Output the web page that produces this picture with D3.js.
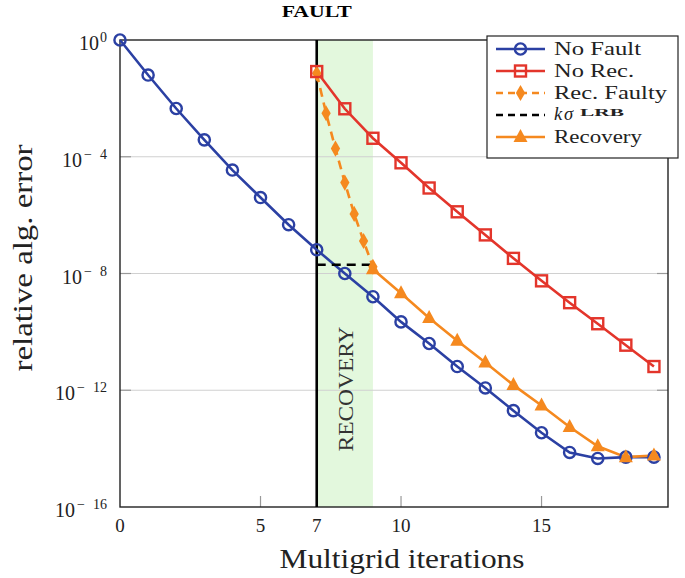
<!DOCTYPE html>
<html>
<head>
<meta charset="utf-8">
<script src="https://cdn.jsdelivr.net/npm/d3@7"></script>
<style>
  body { margin: 0; background: #fff; }
  text { font-family: "Liberation Serif", "DejaVu Serif", serif; }
</style>
</head>
<body>
<svg id="main-svg" width="685" height="578"></svg>
<script>
// iterations and errors
const iterations = [0, 1, 2, 3, 4, 5, 6, 7, 8, 9, 10, 11, 12, 13, 14, 15, 16, 17, 18, 19];
const noFault = [1, 6.3e-2, 4.5e-3, 3.8e-4, 3.5e-5, 4.0e-6, 4.7e-7, 6.5e-8, 1.0e-8, 1.6e-9,
  2.2e-10, 4.0e-11, 6.5e-12, 1.2e-12, 2.0e-13, 3.5e-14, 7.4e-15, 4.6e-15, 5.1e-15, 5.1e-15];

const noRecIters = [7, 8, 9, 10, 11, 12, 13, 14, 15, 16, 17, 18, 19];
const noRec = [8.3e-2, 4.4e-3, 4.3e-4, 6.2e-5, 8.5e-6, 1.3e-6, 2.1e-7, 3.3e-8, 5.6e-9, 1.0e-9,
  1.9e-10, 3.5e-11, 6.5e-12];

const recFaultyIters = [7, 7.333, 7.667, 8, 8.333, 8.667, 9];
const recFaulty = [7.2e-2, 3.1e-3, 1.9e-4, 1.3e-5, 1.1e-6, 1.3e-7, 1.7e-8];

const lrbIters = [7, 9];
const lrbBound = [2.0e-8, 2.0e-8];

const recoveryIters = [9, 10, 11, 12, 13, 14, 15, 16, 17, 18, 19];
const recovery = [1.4e-8, 2.1e-9, 3.0e-10, 5.0e-11, 8.9e-12, 1.5e-12, 3.0e-13, 5.5e-14,
  1.2e-14, 5.1e-15, 5.8e-15];

const faultIter = 7;
const recoveryWindow = [7, 9];
const xTicks = [0, 5, 7, 10, 15];
const yTickExps = [0, -4, -8, -12, -16];
const legendLabels = ["No Fault", "No Rec.", "Rec. Faulty", "lrb", "Recovery"];

const blue = "#2b40a3", red = "#e3352b", orange = "#f5891f";

const margin = {top: 40, right: 17, bottom: 71, left: 120};
const width = 685, height = 578;

const svg = d3.select('#main-svg');

const x = d3.scaleLinear().domain([0, 19.5]).range([margin.left, width - margin.right]);
const y = d3.scaleLog().domain([1e-16, 1]).range([height - margin.bottom, margin.top]);

// recovery band
svg.append("rect")
  .attr("x", x(recoveryWindow[0]))
  .attr("y", margin.top)
  .attr("width", x(recoveryWindow[1]) - x(recoveryWindow[0]))
  .attr("height", y(1e-16) - margin.top)
  .attr("fill", "#e3f8dd");

// grid lines
svg.append("g")
  .selectAll("line")
  .data(yTickExps.slice(1, -1))
  .join("line")
  .attr("x1", margin.left).attr("x2", width - margin.right)
  .attr("y1", d => y(10 ** d)).attr("y2", d => y(10 ** d))
  .attr("stroke", "#d0d0d0").attr("stroke-width", 1.2);

// y ticks on both sides, x ticks along the bottom
const tickG = svg.append("g").attr("stroke", "#999").attr("stroke-width", 1.2);
yTickExps.slice(1, -1).forEach(e => {
  tickG.append("line").attr("x1", margin.left).attr("x2", margin.left + 11)
    .attr("y1", y(10 ** e)).attr("y2", y(10 ** e));
  tickG.append("line").attr("x1", width - margin.right - 11).attr("x2", width - margin.right)
    .attr("y1", y(10 ** e)).attr("y2", y(10 ** e));
});
[5, 10, 15].forEach(t => {
  tickG.append("line").attr("x1", x(t)).attr("x2", x(t))
    .attr("y1", y(1e-16)).attr("y2", y(1e-16) - 11);
});

// frame
svg.append("rect")
  .attr("x", margin.left).attr("y", margin.top)
  .attr("width", width - margin.right - margin.left)
  .attr("height", y(1e-16) - margin.top)
  .attr("fill", "none").attr("stroke", "#222").attr("stroke-width", 1.4);

// fault line
svg.append("line")
  .attr("x1", x(faultIter)).attr("x2", x(faultIter))
  .attr("y1", margin.top).attr("y2", y(1e-16))
  .attr("stroke", "#000").attr("stroke-width", 2.6);

// y tick labels
const yl = svg.append("g").attr("fill", "#222");
yTickExps.forEach(e => {
  const t = yl.append("text")
    .attr("x", 107).attr("y", y(10 ** e) + 10)
    .attr("text-anchor", "end")
    .attr("font-size", 20);
  t.append("tspan").text("10");
  if (e === 0) {
    t.append("tspan").attr("dy", -8).attr("dx", 1).attr("font-size", 14).text("0");
  } else {
    t.append("tspan").attr("dy", -8).attr("dx", 2).attr("font-size", 14).text("\u2212");
    t.append("tspan").attr("dx", 8).attr("font-size", 14).text(Math.abs(e));
  }
});

// x tick labels
svg.append("g").selectAll("text")
  .data(xTicks)
  .join("text")
  .attr("x", d => x(d)).attr("y", 532)
  .attr("text-anchor", "middle")
  .attr("font-size", 19).attr("fill", "#222")
  .text(d => d);

// axis titles
svg.append("text")
  .attr("x", 402).attr("y", 568)
  .attr("text-anchor", "middle")
  .attr("font-size", 27).attr("fill", "#222")
  .attr("textLength", 245).attr("lengthAdjust", "spacingAndGlyphs")
  .text("Multigrid iterations");

svg.append("text")
  .attr("transform", "translate(32,258) rotate(-90)")
  .attr("text-anchor", "middle")
  .attr("font-size", 28).attr("fill", "#222")
  .attr("textLength", 227).attr("lengthAdjust", "spacingAndGlyphs")
  .text("relative alg. error");

svg.append("text")
  .attr("x", x(faultIter)).attr("y", 17)
  .attr("text-anchor", "middle")
  .attr("font-size", 16).attr("font-weight", "bold")
  .attr("textLength", 70).attr("lengthAdjust", "spacingAndGlyphs")
  .text("FAULT");

svg.append("text")
  .attr("transform", `translate(${x(8) + 8},389) rotate(-90)`)
  .attr("text-anchor", "middle")
  .attr("font-size", 22).attr("fill", "#333")
  .attr("textLength", 125).attr("lengthAdjust", "spacingAndGlyphs")
  .text("RECOVERY");

const line = d3.line().x(d => x(d[0])).y(d => y(d[1]));

// series
const drawLine = (xs, ys, color, dash) => svg.append("path")
  .datum(d3.zip(xs, ys))
  .attr("d", line)
  .attr("fill", "none")
  .attr("stroke", color).attr("stroke-width", 2.6)
  .attr("stroke-dasharray", dash || null);

drawLine(iterations, noFault, blue);
drawLine(noRecIters, noRec, red);
drawLine(lrbIters, lrbBound, "#000", "9,6");
drawLine(recFaultyIters, recFaulty, orange, "9,6");
drawLine(recoveryIters, recovery, orange);

const circleMark = (g, color) => g.append("circle").attr("r", 5.6)
  .attr("fill", "none").attr("stroke", color).attr("stroke-width", 2.4);
const squareMark = (g, color) => g.append("rect").attr("x", -5.5).attr("y", -5.5)
  .attr("width", 11).attr("height", 11)
  .attr("fill", "none").attr("stroke", color).attr("stroke-width", 2.4);
const diamondMark = (g, color) => g.append("path")
  .attr("d", d3.symbol(d3.symbolDiamond, 75)())
  .attr("fill", color);
const triMark = (g, color) => g.append("path")
  .attr("d", "M0,-8L7,5L-7,5Z")
  .attr("fill", color);

const drawMarks = (xs, ys, color, mk) => {
  d3.zip(xs, ys).forEach(p => {
    const g = svg.append("g").attr("transform", `translate(${x(p[0])},${y(p[1])})`);
    mk(g, color);
  });
};

drawMarks(iterations, noFault, blue, circleMark);
drawMarks(recFaultyIters, recFaulty, orange, diamondMark);
drawMarks(noRecIters, noRec, red, squareMark);
drawMarks(recoveryIters, recovery, orange, triMark);

// legend
const legend = svg.append("g");
legend.append("rect")
  .attr("x", 487).attr("y", 36).attr("width", 191).attr("height", 122)
  .attr("fill", "#fff").attr("stroke", "#222").attr("stroke-width", 1.2);

const legendStyle = [
  {color: blue, dash: null, mk: circleMark, len: 87},
  {color: red, dash: null, mk: squareMark, len: 80},
  {color: orange, dash: "7,5", mk: diamondMark, len: 113},
  {color: "#000", dash: "7,5", mk: null, len: null},
  {color: orange, dash: null, mk: triMark, len: 88}
];
const rowY = [49, 71, 93, 115, 137];

legendLabels.forEach((label, i) => {
  const st = legendStyle[i];
  const g = legend.append("g").attr("transform", `translate(0,${rowY[i]})`);
  g.append("line").attr("x1", 496).attr("x2", 545)
    .attr("stroke", st.color).attr("stroke-width", 2.6)
    .attr("stroke-dasharray", st.dash);
  if (st.mk) st.mk(g.append("g").attr("transform", "translate(520.5,0)"), st.color);
  const t = g.append("text").attr("x", 554).attr("y", 6).attr("font-size", 18.5).attr("fill", "#222");
  if (label === "lrb") {
    t.attr("y", 5);
    t.append("tspan").attr("font-style", "italic").text("k");
    t.append("tspan").attr("x", 564).attr("font-style", "italic").text("\u03c3");
    t.append("tspan").attr("x", 580).attr("dy", -4).attr("font-size", 11).attr("font-weight", "bold")
      .attr("textLength", 44).attr("lengthAdjust", "spacingAndGlyphs").text("LRB");
  } else {
    t.attr("textLength", st.len).attr("lengthAdjust", "spacingAndGlyphs").text(label);
  }
});
</script>
</body>
</html>
